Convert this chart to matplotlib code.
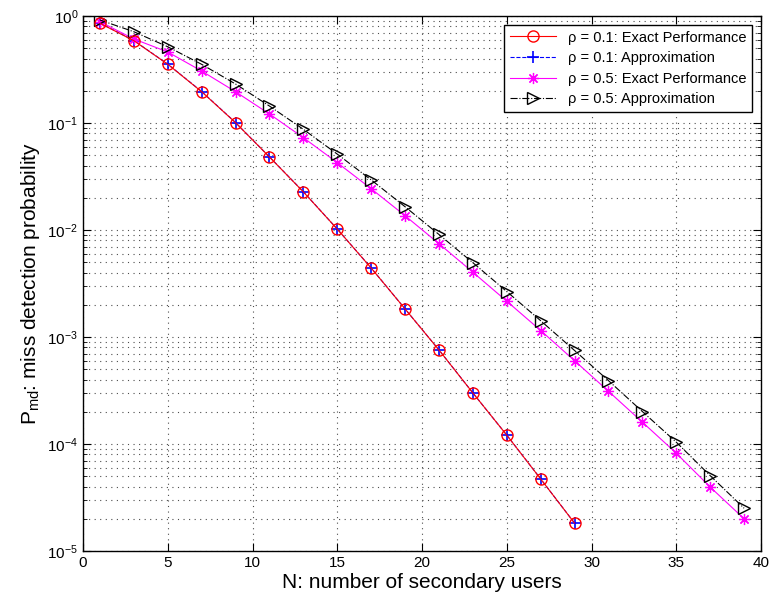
import numpy as np
import matplotlib
matplotlib.use('Agg')
import matplotlib.pyplot as plt

plt.rcParams['font.family'] = ['Liberation Sans', 'DejaVu Sans']
plt.rcParams['mathtext.fontset'] = 'custom'
plt.rcParams['mathtext.rm'] = 'Liberation Sans'
plt.rcParams['mathtext.it'] = 'Liberation Sans:italic'
plt.rcParams['mathtext.default'] = 'regular'

# data
n_01 = [1, 3, 5, 7, 9, 11, 13, 15, 17, 19, 21, 23, 25, 27, 29]
exact_01 = [0.855, 0.588, 0.354, 0.196, 0.1007, 0.0481, 0.0227, 0.0102, 0.00441,
            0.00183, 7.56e-4, 3.0e-4, 1.21e-4, 4.71e-5, 1.82e-5]
approx_01 = [0.86, 0.59, 0.355, 0.197, 0.101, 0.0482, 0.0228, 0.0102, 0.00442,
             0.00183, 7.57e-4, 3.0e-4, 1.21e-4, 4.72e-5, 1.82e-5]

n_05 = [1, 3, 5, 7, 9, 11, 13, 15, 17, 19, 21, 23, 25, 27, 29, 31, 33, 35, 37, 39]
exact_05 = [0.885, 0.610, 0.461, 0.306, 0.196, 0.1214, 0.0729, 0.0426, 0.0243, 0.0136,
            0.00745, 0.00403, 0.00216, 0.00115, 6.0e-4, 3.11e-4, 1.60e-4, 8.2e-5,
            3.96e-5, 2.0e-5]
approx_05 = [0.918, 0.713, 0.516, 0.3535, 0.2315, 0.144, 0.0873, 0.0512, 0.0294, 0.0165,
             0.00908, 0.00495, 0.00266, 0.00142, 7.48e-4, 3.91e-4, 2.01e-4, 1.04e-4,
             5.06e-5, 2.51e-5]

fig = plt.figure(figsize=(7.73, 6.0), dpi=100)
ax = fig.add_axes([0.1074, 0.0817, 0.8771, 0.8916])

lw = 0.8
ax.semilogy(n_01, approx_01, 'b--', marker='+', ms=9, mew=1.2, lw=lw,
            label='ρ = 0.1: Approximation', zorder=3)
ax.semilogy(n_01, exact_01, 'r-', marker='o', mfc='none', ms=8, lw=lw,
            label='ρ = 0.1: Exact Performance', zorder=4)
ax.semilogy(n_05, exact_05, '-', color='magenta', marker=(8, 2, 0), ms=8, mew=0.9,
            lw=lw, label='ρ = 0.5: Exact Performance', zorder=3)
ax.semilogy(n_05, approx_05, 'k-.', marker='>', mfc='none', ms=9, lw=lw,
            label='ρ = 0.5: Approximation', zorder=3)

ax.set_xlim(0, 40)
ax.set_ylim(1e-5, 1)
ax.set_xticks(np.arange(0, 41, 5))

grid_kw = dict(linestyle=(0, (1, 4)), color='0.3', lw=0.8)
ax.grid(True, which='major', axis='x', **grid_kw)
ax.grid(True, which='both', axis='y', **grid_kw)
ax.tick_params(which='both', direction='in', top=True, right=True, labelsize=11)
ax.tick_params(which='major', length=6)
ax.tick_params(which='minor', length=3)
ax.tick_params(axis='x', which='minor', bottom=False, top=False)
for s in ax.spines.values():
    s.set_linewidth(1.0)

ax.set_xlabel('N: number of secondary users', fontsize=15, labelpad=2)
ax.set_ylabel('P$_{md}$: miss detection probability', fontsize=15, labelpad=4)

h, l = ax.get_legend_handles_labels()
order = [1, 0, 2, 3]
leg = ax.legend([h[i] for i in order], [l[i] for i in order], loc='upper right',
                fontsize=10.5, fancybox=False, framealpha=1, edgecolor='black',
                borderaxespad=0.6, handlelength=3.2, labelspacing=0.45, borderpad=0.4)
leg.get_frame().set_linewidth(1.0)

fig.savefig('out.png', dpi=100)
